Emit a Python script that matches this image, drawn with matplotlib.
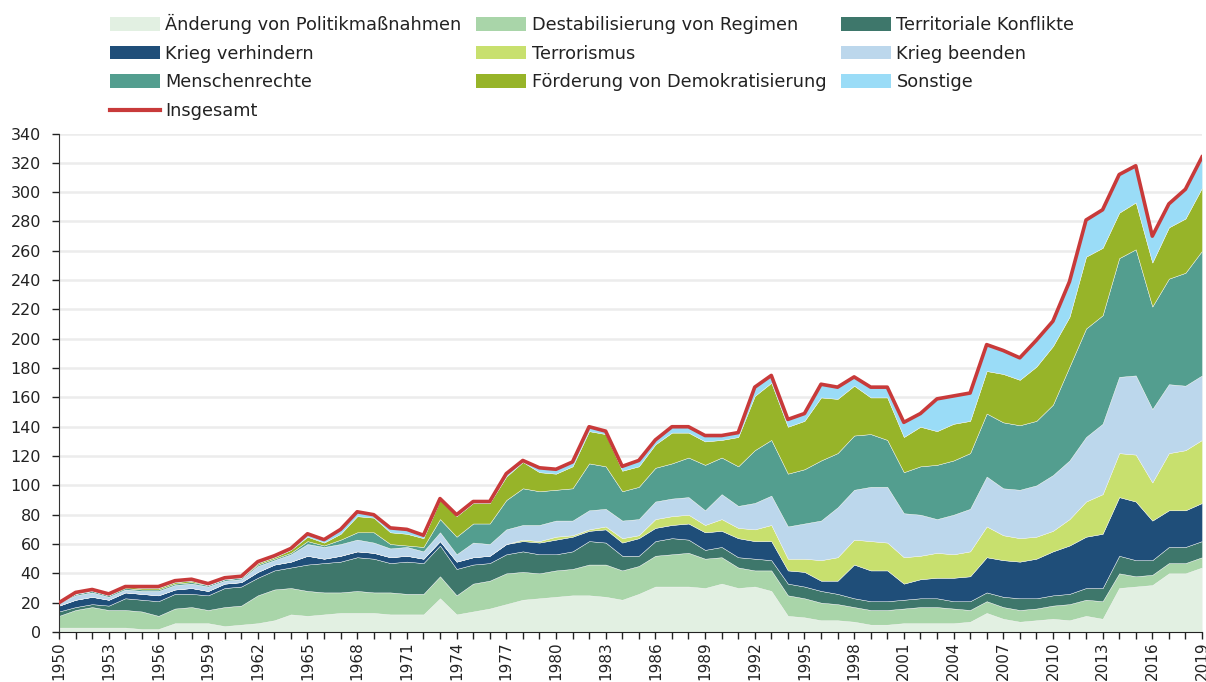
import numpy as np
import matplotlib.pyplot as plt
from matplotlib.patches import Patch
from matplotlib.lines import Line2D

years = list(range(1950, 2020))

aenderung = [3, 3, 3, 3, 3, 2, 2, 6, 6, 6, 4, 5,
             6, 8, 12, 11, 12, 13, 13, 13, 12, 12, 12, 23, 12, 14, 16, 19, 22, 23,
             24, 25, 25, 24, 22, 26, 31, 31, 31, 30, 33, 30, 31, 28, 11, 10, 8, 8, 7, 5,
             5, 6, 6, 6, 6, 7, 13, 9, 7, 8, 9, 8, 11, 9, 30, 31, 32, 40, 40, 44]
destab = [8, 12, 14, 12, 12, 12, 9, 10, 11, 9, 13, 13,
          19, 21, 18, 17, 15, 14, 15, 14, 15, 14, 14, 15, 13, 19, 19, 21, 19, 17,
          18, 18, 21, 22, 20, 19, 21, 22, 23, 20, 18, 14, 11, 14, 14, 13, 12, 11, 10, 10,
          10, 10, 11, 11, 10, 8, 8, 8, 8, 8, 9, 11, 11, 12, 10, 7, 7, 7, 7, 7]
territorial = [3, 2, 2, 3, 8, 8, 10, 10, 9, 10, 13, 13,
               12, 13, 14, 18, 20, 21, 23, 23, 20, 22, 21, 21, 18, 13, 12, 13, 14, 13,
               11, 12, 16, 15, 10, 7, 10, 11, 9, 6, 7, 7, 8, 7, 8, 8, 8, 7, 6, 6,
               6, 6, 6, 6, 5, 6, 6, 7, 8, 7, 7, 7, 8, 9, 12, 11, 10, 11, 11, 11]
krieg_verh = [4, 5, 5, 4, 4, 4, 4, 3, 4, 3, 3, 3,
              4, 4, 4, 6, 3, 4, 4, 4, 4, 4, 3, 3, 5, 5, 5, 7, 7, 8,
              10, 10, 7, 9, 9, 12, 9, 9, 11, 12, 11, 13, 12, 13, 9, 10, 7, 9, 23, 21,
              21, 11, 13, 14, 16, 17, 24, 25, 25, 27, 30, 33, 35, 37, 40, 40, 27, 25, 25, 26]
terror = [0] * 27 + [0, 1, 1,
          2, 1, 1, 2, 3, 2, 6, 6, 6, 5, 8, 7, 8, 11, 8, 9, 14, 16, 17, 20,
          19, 18, 16, 17, 16, 17, 21, 17, 16, 15, 14, 18, 24, 27, 30, 32, 26, 39, 41, 43]
krieg_beend = [2, 3, 3, 2, 2, 2, 3, 3, 3, 3, 2, 2,
               4, 3, 5, 8, 8, 8, 8, 7, 6, 6, 5, 6, 5, 10, 8, 10, 10, 11,
               11, 10, 13, 12, 12, 11, 12, 12, 12, 10, 17, 15, 18, 20, 22, 24, 27, 34, 34, 37,
               38, 30, 28, 23, 27, 29, 34, 32, 33, 35, 38, 40, 44, 48, 52, 54, 50, 47, 44, 44]
menschenr = [0, 1, 1, 1, 1, 1, 1, 1, 1, 1, 1, 1,
             1, 1, 1, 2, 1, 3, 5, 7, 3, 1, 3, 9, 12, 13, 14, 20, 25, 23,
             21, 22, 32, 29, 20, 22, 23, 24, 27, 31, 25, 27, 36, 38, 36, 37, 41, 37, 37, 36,
             32, 28, 33, 37, 37, 38, 43, 45, 44, 44, 48, 64, 74, 74, 81, 86, 70, 72, 77, 85]
foerderung = [0, 0, 0, 0, 1, 1, 1, 1, 1, 0, 0, 0,
              1, 1, 2, 3, 2, 4, 11, 10, 8, 8, 6, 13, 14, 14, 14, 16, 18, 13,
              11, 15, 22, 22, 14, 14, 16, 21, 17, 16, 12, 20, 37, 39, 32, 33, 43, 37, 34, 25,
              29, 24, 27, 23, 25, 22, 29, 33, 31, 37, 40, 34, 49, 46, 31, 32, 30, 35, 37, 43]
sonstige = [0, 1, 1, 1, 0, 1, 1, 1, 1, 1, 1, 1,
            1, 1, 1, 2, 2, 3, 3, 2, 3, 3, 2, 1, 1, 1, 1, 2, 1, 3,
            3, 3, 3, 2, 3, 4, 3, 4, 4, 4, 3, 3, 6, 5, 5, 5, 9, 8, 6, 7,
            7, 10, 9, 22, 19, 19, 18, 16, 15, 18, 17, 24, 25, 26, 26, 25, 18, 16, 20, 21]

labels = ['Änderung von Politikmaßnahmen', 'Destabilisierung von Regimen',
          'Territoriale Konflikte', 'Krieg verhindern', 'Terrorismus',
          'Krieg beenden', 'Menschenrechte', 'Förderung von Demokratisierung',
          'Sonstige']
colors = ['#e2f0e2', '#a9d5a9', '#3e776b', '#1f4e79', '#c8e06e',
          '#bcd7ec', '#539e8f', '#97b429', '#9adcf7']

series = [aenderung, destab, territorial, krieg_verh, terror,
          krieg_beend, menschenr, foerderung, sonstige]
total = np.sum(np.array(series), axis=0)

plt.rcParams['font.family'] = 'DejaVu Sans'
fig = plt.figure(figsize=(12.06, 6.82), dpi=100)
ax = fig.add_axes([59 / 1206, 50 / 682, 1143 / 1206, 498.5 / 682])

ax.stackplot(years, *series, colors=colors, linewidth=0.3, edgecolor='#f4f4f4', zorder=2)
ax.plot(years, total, color='#c83a3a', lw=2.6, zorder=3)

ax.set_xlim(1950, 2019)
ax.set_ylim(0, 340)
ax.set_yticks(range(0, 341, 20))
ax.set_xticks(years, minor=True)
ax.set_xticks(range(1950, 2020, 3))
ax.tick_params(axis='x', which='both', length=5, width=1, rotation=90,
               labelsize=11, pad=1.5, colors='#222222')
ax.tick_params(axis='y', length=5, width=1, labelsize=11.5, pad=8, colors='#222222')
ax.grid(axis='y', color='#ececec', lw=1.8)
ax.set_axisbelow(True)
for s in ['top', 'right']:
    ax.spines[s].set_visible(False)
ax.spines['left'].set_color('#333333')
ax.spines['bottom'].set_color('#222222')

patches = [Patch(facecolor=c, label=l) for c, l in zip(colors, labels)]
line = Line2D([], [], color='#c83a3a', lw=3, label='Insgesamt')
order = [patches[0], patches[3], patches[6], line,
         patches[1], patches[4], patches[7],
         patches[2], patches[5], patches[8]]
fig.legend(handles=order, loc='upper left', bbox_to_anchor=(94 / 1206, 1 + 2 / 682),
           ncol=3, frameon=False, fontsize=12.8, handlelength=2.8, handleheight=0.8,
           handletextpad=0.3, labelspacing=0.6, columnspacing=0.85,
           labelcolor='#222222')

fig.savefig('out.png', dpi=100)
